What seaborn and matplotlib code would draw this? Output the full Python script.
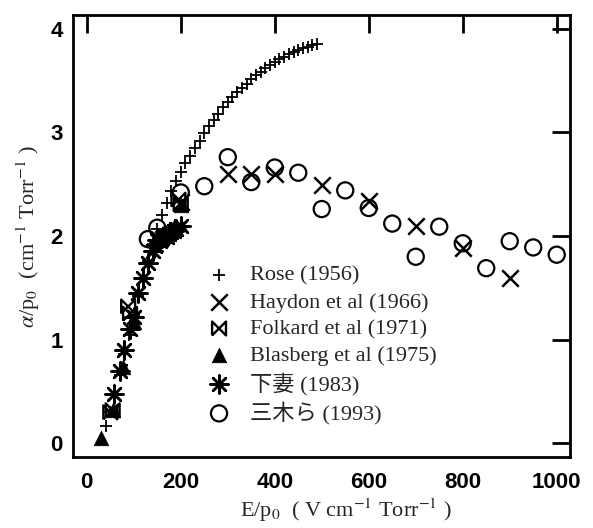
import numpy as np
import pandas as pd
import matplotlib
matplotlib.use("Agg")
import matplotlib.pyplot as plt
import seaborn as sns

# Data
rose_x = [40, 50, 60, 70, 80, 90, 100, 110, 120, 130, 140, 150, 160, 170, 180, 190,
          200, 210, 220, 230, 240, 250, 260, 270, 280, 290, 300, 310, 320, 330, 340,
          350, 360, 370, 380, 390, 400, 410, 420, 430, 440, 450, 460, 470, 480, 490]
rose_y = [0.17, 0.30, 0.47, 0.66, 0.86, 1.05, 1.24, 1.42, 1.60, 1.76, 1.92, 2.07, 2.20,
          2.32, 2.43, 2.53, 2.62, 2.70, 2.77, 2.85, 2.92, 2.99, 3.06, 3.12, 3.18, 3.24,
          3.29, 3.34, 3.39, 3.43, 3.47, 3.51, 3.55, 3.58, 3.62, 3.65, 3.68, 3.71, 3.73,
          3.75, 3.77, 3.79, 3.81, 3.82, 3.84, 3.85]

haydon_x = [200, 300, 350, 400, 500, 600, 700, 800, 900]
haydon_y = [2.33, 2.60, 2.60, 2.60, 2.49, 2.34, 2.10, 1.88, 1.60]

folkard_x = [50, 55, 88, 92, 195, 200]
folkard_y = [0.30, 0.32, 1.32, 1.25, 2.35, 2.30]

blasberg_x = [30, 55, 78, 100, 200]
blasberg_y = [0.05, 0.32, 0.74, 1.17, 2.30]

shimo_x = [58, 70, 80, 92, 100, 110, 120, 130, 140, 145, 150, 155, 160, 165, 170, 175,
           180, 185, 190, 200]
shimo_y = [0.48, 0.70, 0.90, 1.10, 1.22, 1.45, 1.60, 1.74, 1.86, 1.90, 1.96, 1.95, 1.98,
           2.00, 1.99, 2.02, 2.04, 2.05, 2.07, 2.10]

miki_x = [130, 150, 200, 250, 300, 350, 400, 450, 500, 550, 600, 650, 700, 750, 800,
          850, 900, 950, 1000]
miki_y = [1.97, 2.08, 2.42, 2.48, 2.76, 2.52, 2.66, 2.61, 2.26, 2.44, 2.27, 2.12, 1.80,
          2.09, 1.93, 1.69, 1.95, 1.89, 1.82]

labels = ["Rose (1956)", "Haydon et al (1966)", "Folkard et al (1971)",
          "Blasberg et al (1975)", "下妻 (1983)", "三木ら (1993)"]

sns.set_style("white")
plt.rcParams["font.family"] = ["Liberation Sans", "DejaVu Sans"]
plt.rcParams["mathtext.fontset"] = "stix"

fig = plt.figure(figsize=(5.93, 5.28), dpi=100)
ax = fig.add_axes([0.1226, 0.1345, 0.8384, 0.837])

bowtie = [(-1, -1), (-1, 1), (1, -1), (1, 1), (-1, -1)]

sns.scatterplot(x=rose_x, y=rose_y, ax=ax, marker="+", color="black", s=85,
                linewidth=1.3, label=labels[0], zorder=3)
sns.scatterplot(x=haydon_x, y=haydon_y, ax=ax, marker="x", color="black", s=140,
                linewidth=1.8, label=labels[1], zorder=3)
sns.scatterplot(x=folkard_x, y=folkard_y, ax=ax, marker=bowtie, facecolor="none",
                edgecolor="black", s=100, linewidth=1.7, label=labels[2], zorder=3)
sns.scatterplot(x=blasberg_x, y=blasberg_y, ax=ax, marker="^", color="black", s=110,
                edgecolor="black", linewidth=0.5, label=labels[3], zorder=3)
sns.scatterplot(x=shimo_x, y=shimo_y, ax=ax, marker=(8, 2, 0), color="black", s=170,
                linewidth=1.8, label=labels[4], zorder=3)
sns.scatterplot(x=miki_x, y=miki_y, ax=ax, marker="o", facecolor="none",
                edgecolor="black", s=135, linewidth=1.6, label=labels[5], zorder=3)

ax.set_xlim(-30, 1028)
ax.set_ylim(-0.13, 4.13)
ax.set_xticks([0, 200, 400, 600, 800, 1000])
ax.set_yticks([0, 1, 2, 3, 4])
ax.tick_params(direction="in", length=13, width=2, top=True, right=True,
               labelsize=16, colors="black")
ax.tick_params(axis="x", pad=11)
ax.tick_params(axis="y", pad=7)
for t in ax.get_xticklabels() + ax.get_yticklabels():
    t.set_fontweight("bold")
for sp in ax.spines.values():
    sp.set_linewidth(2)
    sp.set_color("black")

ax.set_xlabel(r"E/p$_0$  ( V cm$^{-1}$ Torr$^{-1}$ )", family="Liberation Serif",
              fontsize=16)
ax.xaxis.set_label_coords(0.55, -0.121)
ax.xaxis.label.set_va("center")
ax.set_ylabel(r"$\alpha$/p$_0$  (cm$^{-1}$ Torr$^{-1}$ )", family="Liberation Serif",
              fontsize=16, labelpad=6)

leg = ax.legend(loc="upper left", bbox_to_anchor=(0.272, 0.434), frameon=False,
                handlelength=1.0, handletextpad=0.9, borderaxespad=0, borderpad=0,
                labelspacing=0.28,
                prop={"family": ["Liberation Serif", "Noto Sans CJK JP"], "size": 16})

fig.savefig("out.png", dpi=100)
